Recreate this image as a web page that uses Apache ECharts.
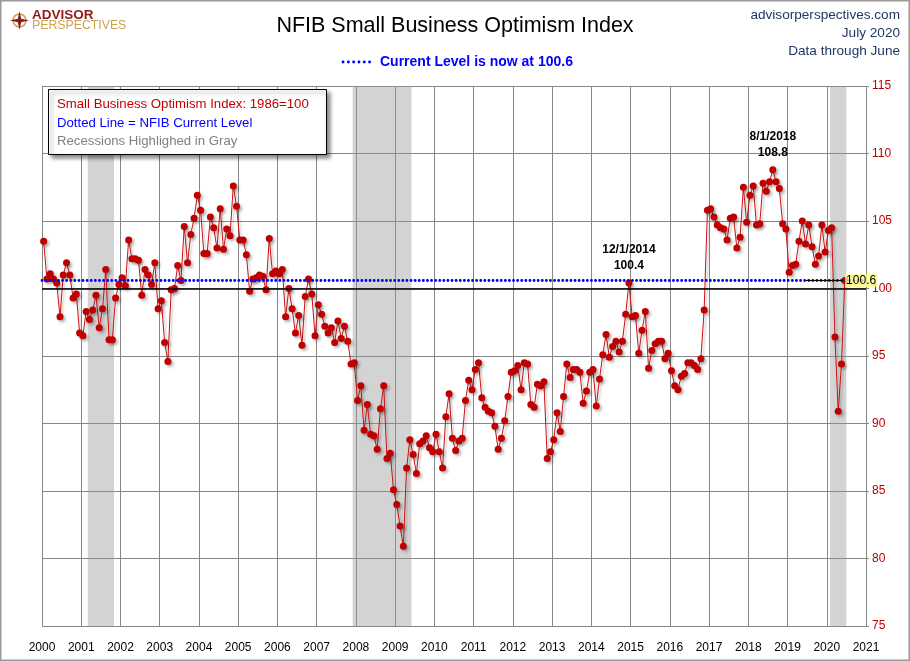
<!DOCTYPE html>
<html><head><meta charset="utf-8">
<script src="https://cdn.jsdelivr.net/npm/echarts@6/dist/echarts.min.js"></script>
<style>html,body{margin:0;padding:0;background:#fff}#c{width:910px;height:661px}</style>
</head><body><div id="c"></div>
<script>
// Monthly NFIB Small Business Optimism Index, Jan 2000 - Jun 2020
const y2000 = [103.5, 100.7, 101.1, 100.7, 100.4, 97.9, 101.0, 101.9, 101.0, 99.3, 99.6, 96.7];
const y2001 = [96.5, 98.3, 97.7, 98.4, 99.5, 97.1, 98.5, 101.4, 96.2, 96.2, 99.3, 100.3];
const y2002 = [100.8, 100.2, 103.6, 102.2, 102.2, 102.1, 99.5, 101.4, 101.0, 100.3, 101.9, 98.5];
const y2003 = [99.1, 96.0, 94.6, 99.9, 100.0, 101.7, 100.6, 104.6, 101.9, 104.0, 105.2, 106.9];
const y2004 = [105.8, 102.6, 102.6, 105.3, 104.5, 103.0, 105.9, 102.9, 104.4, 103.9, 107.6, 106.1];
const y2005 = [103.6, 103.6, 102.5, 99.8, 100.7, 100.8, 101.0, 100.9, 99.9, 103.7, 101.1, 101.3];
const y2006 = [101.1, 101.4, 97.9, 100.0, 98.5, 96.7, 98.0, 95.8, 99.4, 100.7, 99.6, 96.5];
const y2007 = [98.8, 98.1, 97.2, 96.7, 97.1, 96.0, 97.6, 96.3, 97.2, 96.1, 94.4, 94.5];
const y2008 = [91.7, 92.8, 89.5, 91.4, 89.2, 89.1, 88.1, 91.1, 92.8, 87.4, 87.8, 85.1];
const y2009 = [84.0, 82.4, 80.9, 86.7, 88.8, 87.7, 86.3, 88.5, 88.7, 89.1, 88.2, 87.9];
const y2010 = [89.2, 87.9, 86.7, 90.5, 92.2, 88.9, 88.0, 88.7, 88.9, 91.7, 93.2, 92.5];
const y2011 = [94.0, 94.5, 91.9, 91.2, 90.9, 90.8, 89.8, 88.1, 88.9, 90.2, 92.0, 93.8];
const y2012 = [93.9, 94.3, 92.5, 94.5, 94.4, 91.4, 91.2, 92.9, 92.8, 93.1, 87.4, 87.9];
const y2013 = [88.8, 90.8, 89.4, 92.0, 94.4, 93.4, 94.0, 94.0, 93.8, 91.5, 92.4, 93.8];
const y2014 = [94.0, 91.3, 93.3, 95.1, 96.6, 94.9, 95.7, 96.1, 95.3, 96.1, 98.1, 100.4];
const y2015 = [97.9, 98.0, 95.2, 96.9, 98.3, 94.1, 95.4, 95.9, 96.1, 96.1, 94.8, 95.2];
const y2016 = [93.9, 92.8, 92.5, 93.5, 93.7, 94.5, 94.5, 94.3, 94.0, 94.8, 98.4, 105.8];
const y2017 = [105.9, 105.3, 104.7, 104.5, 104.4, 103.6, 105.2, 105.3, 103.0, 103.8, 107.5, 104.9];
const y2018 = [106.9, 107.6, 104.7, 104.8, 107.8, 107.2, 107.9, 108.8, 107.9, 107.4, 104.8, 104.4];
const y2019 = [101.2, 101.7, 101.8, 103.5, 105.0, 103.3, 104.7, 103.1, 101.8, 102.4, 104.7, 102.7];
const y2020 = [104.3, 104.5, 96.4, 90.9, 94.4, 100.6];

const startYear = 2000;
const yearly = [y2000, y2001, y2002, y2003, y2004, y2005, y2006, y2007, y2008, y2009, y2010,
                y2011, y2012, y2013, y2014, y2015, y2016, y2017, y2018, y2019, y2020];
const yearTicks = [2000, 2021];   // x axis range (yearly ticks)
const valueTicks = [75, 115, 5];   // y axis min, max, step
// Recessions: [startYear, startMonth, endYear, endMonth]
const recessions = [[2001, 3, 2001, 11], [2007, 12, 2009, 6], [2020, 2, 2020, 7]];
const annotations = [{ label: '12/1/2014', year: 2014, month: 12 }, { label: '8/1/2018', year: 2018, month: 8 }];
const baseline = 100;

const toX = (y, m) => y + (m - 0.5) / 12;
const points = [];
yearly.forEach((arr, i) => arr.forEach((v, m) => points.push([toX(startYear + i, m + 1), v])));
const current = points[points.length - 1][1];
const FONT = "'Liberation Sans', Arial, sans-serif";
const RED = '#C00000';

const chart = echarts.init(document.getElementById('c'), null, { renderer: 'canvas' });
chart.setOption({
  animation: false,
  backgroundColor: '#fff',
  textStyle: { fontFamily: FONT },
  grid: { left: 42, right: 44, top: 86, bottom: 35, containLabel: false },
  xAxis: {
    type: 'value', min: yearTicks[0], max: yearTicks[1], interval: 1,
    axisLine: { show: false }, axisTick: { show: false },
    splitLine: { show: true, lineStyle: { color: '#878787', width: 1 } },
    axisLabel: { color: '#000', fontSize: 12, margin: 16, fontFamily: FONT,
      showMinLabel: true, showMaxLabel: true, formatter: v => String(v) }
  },
  yAxis: {
    type: 'value', position: 'right', min: valueTicks[0], max: valueTicks[1], interval: valueTicks[2],
    axisLine: { show: false },
    axisTick: { show: true, length: 3, lineStyle: { color: '#878787' } },
    splitLine: { show: true, lineStyle: { color: '#878787', width: 1 } },
    axisLabel: { color: RED, fontSize: 12, margin: 6, fontFamily: FONT }
  },
  series: [
    {
      name: 'bg', type: 'line', data: [], z: 1, silent: true,
      markArea: {
        silent: true,
        itemStyle: { color: 'rgba(150,150,150,0.42)' },
        data: recessions.map(r => [{ xAxis: toX(r[0], r[1]) - 0.5 / 12 }, { xAxis: toX(r[2], r[3]) - 0.5 / 12 }])
      },
      markLine: {
        silent: true, symbol: ['none', 'none'], label: { show: false },
        data: [
          { yAxis: baseline, lineStyle: { color: '#000', width: 1.6, type: 'solid' } },
          { yAxis: current, lineStyle: { color: '#0000FF', width: 2.8, type: [0.1, 4], cap: 'round' } }
        ]
      }
    },
    {
      name: 'NFIB', type: 'line', data: points, z: 3,
      symbol: 'circle', symbolSize: 7, showAllSymbol: true,
      lineStyle: { color: '#CC1010', width: 1, shadowColor: 'rgba(0,0,0,0.25)', shadowBlur: 2, shadowOffsetX: 2, shadowOffsetY: 2 },
      itemStyle: { color: RED, borderWidth: 0, shadowColor: 'rgba(0,0,0,0.3)', shadowBlur: 3, shadowOffsetX: 2, shadowOffsetY: 2 },
      markPoint: {
        silent: true, symbol: 'circle', symbolSize: 2,
        itemStyle: { color: 'rgba(0,0,0,0)', shadowBlur: 0 },
        label: { show: true, position: 'top', distance: 8, color: '#000', fontSize: 12, fontWeight: 'bold',
                 lineHeight: 16, fontFamily: FONT, align: 'center' },
        data: annotations.map(a => {
          const v = yearly[a.year - startYear][a.month - 1];
          return { coord: [toX(a.year, a.month), v], value: v,
                   label: { formatter: a.label + '\n' + v.toFixed(1) } };
        })
      }
    },
    {
      name: 'current', type: 'line', data: [], z: 5, silent: true,
      markLine: {
        silent: true, symbol: ['none', 'none'],
        lineStyle: { color: '#000', width: 1, type: 'solid' },
        label: { show: true, position: 'end', distance: 2, formatter: current.toFixed(1), color: '#000',
                 fontSize: 12, fontFamily: FONT, backgroundColor: 'rgba(255,255,130,0.75)', padding: [1, 1, 0, 1] },
        data: [[{ coord: [toX(2019, 6.5) - 0.04, current] }, { coord: [toX(2020, 5.5), current] }]]
      }
    }
  ],
  graphic: [
    { type: 'rect', shape: { x: 0.75, y: 0.75, width: 908.5, height: 659.5 }, style: { fill: 'none', stroke: '#9a9a9a', lineWidth: 1.5 }, z: 100 },
    // logo
    { type: 'circle', shape: { cx: 19.5, cy: 20.5, r: 6.5 }, style: { fill: 'none', stroke: '#C9A34E', lineWidth: 1.5 }, z: 100 },
    { type: 'polygon', shape: { points: [[19.5, 11], [21.2, 18.8], [29, 20.5], [21.2, 22.2], [19.5, 30], [17.8, 22.2], [10, 20.5], [17.8, 18.8]] },
      style: { fill: '#8E1B1B' }, z: 101 },
    { type: 'text', x: 32, y: 15, style: { text: 'ADVISOR', fill: '#8E1B1B', font: 'bold 13.5px ' + FONT, textVerticalAlign: 'middle' }, z: 100 },
    { type: 'text', x: 32, y: 26, style: { text: 'PERSPECTIVES', fill: '#C9A34E', font: '12.3px ' + FONT, textVerticalAlign: 'middle' }, z: 100 },
    // title
    { type: 'text', x: 455, y: 26, style: { text: 'NFIB Small Business Optimism Index', fill: '#000', font: '21.5px ' + FONT, textAlign: 'center', textVerticalAlign: 'middle' }, z: 100 },
    { type: 'line', shape: { x1: 343, y1: 62, x2: 374, y2: 62 }, style: { stroke: '#0000FF', lineWidth: 2.8, lineDash: [0.1, 5.2], lineCap: 'round' }, z: 100 },
    { type: 'text', x: 380, y: 62, style: { text: 'Current Level is now at ' + current.toFixed(1), fill: '#0000FF', font: 'bold 14px ' + FONT, textVerticalAlign: 'middle' }, z: 100 },
    // top right
    { type: 'text', x: 900, y: 15, style: { text: 'advisorperspectives.com', fill: '#203864', font: '13.6px ' + FONT, textAlign: 'right', textVerticalAlign: 'middle' }, z: 100 },
    { type: 'text', x: 900, y: 33, style: { text: 'July 2020', fill: '#203864', font: '13.6px ' + FONT, textAlign: 'right', textVerticalAlign: 'middle' }, z: 100 },
    { type: 'text', x: 900, y: 51, style: { text: 'Data through June', fill: '#203864', font: '13.6px ' + FONT, textAlign: 'right', textVerticalAlign: 'middle' }, z: 100 },
    // legend box
    { type: 'rect', shape: { x: 48.5, y: 89.5, width: 278, height: 65 },
      style: { fill: '#fff', stroke: '#000', lineWidth: 1, shadowColor: 'rgba(0,0,0,0.45)', shadowBlur: 4, shadowOffsetX: 3, shadowOffsetY: 3 }, z: 100 },
    { type: 'text', x: 57, y: 104, style: { text: 'Small Business Optimism Index: 1986=100', fill: RED, font: '13.2px ' + FONT, textVerticalAlign: 'middle' }, z: 101 },
    { type: 'text', x: 57, y: 123, style: { text: 'Dotted Line = NFIB Current Level', fill: '#0000FF', font: '13.2px ' + FONT, textVerticalAlign: 'middle' }, z: 101 },
    { type: 'text', x: 57, y: 141, style: { text: 'Recessions Highlighed in Gray', fill: '#808080', font: '13.2px ' + FONT, textVerticalAlign: 'middle' }, z: 101 }
  ]
});
</script>
</body></html>
